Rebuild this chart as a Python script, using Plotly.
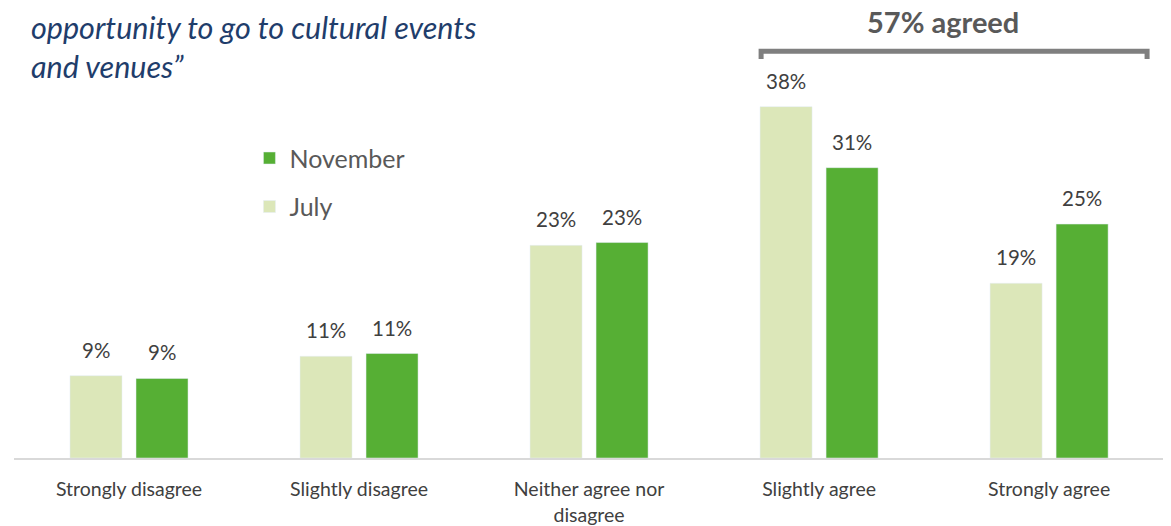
import plotly.graph_objects as go

categories = ["Strongly disagree", "Slightly disagree", "Neither agree nor<br>disagree",
              "Slightly agree", "Strongly agree"]
july = [8.9, 11.0, 23.0, 38.0, 18.9]
november = [8.6, 11.3, 23.3, 31.4, 25.3]
july_labels = ["9%", "11%", "23%", "38%", "19%"]
november_labels = ["9%", "11%", "23%", "31%", "25%"]

title_text = ("\u201cSince lockdown, I\u2019ve really missed the<br>"
              "opportunity to go to cultural events<br>and venues\u201d")
agreed_text = "57% agreed"

C_JULY = "#DCE7B9"
C_NOV = "#56AF34"
TXT = "#404040"
FONT = "Lato"

fig = go.Figure()
fig.add_trace(go.Bar(name="July", x=categories, y=july, marker_color=C_JULY,
                     legendgroup="j", legendrank=2, hoverinfo="skip"))
fig.add_trace(go.Bar(name="November", x=categories, y=november, marker_color=C_NOV,
                     legendgroup="n", legendrank=1, hoverinfo="skip"))

annotations = []
for i, c in enumerate(categories):
    annotations.append(dict(x=c, y=july[i], xref="x", yref="y", text=july_labels[i],
                            showarrow=False, xshift=-33, yshift=12, yanchor="bottom",
                            font=dict(family=FONT, size=20.5, color=TXT)))
    annotations.append(dict(x=c, y=november[i], xref="x", yref="y", text=november_labels[i],
                            showarrow=False, xshift=33, yshift=12, yanchor="bottom",
                            font=dict(family=FONT, size=20.5, color=TXT)))

annotations.append(dict(x=0.013, y=1.172, xref="paper", yref="paper", xanchor="left",
                        yanchor="middle", align="left", text=title_text, showarrow=False,
                        font=dict(family=FONT, size=30.5, color="#1F3D6B", style="italic")))
annotations.append(dict(x=0.803, y=1.186, xref="paper", yref="paper", xanchor="center",
                        yanchor="middle", text="<b>" + agreed_text + "</b>", showarrow=False,
                        font=dict(family=FONT, size=29, color="#595959")))

fig.update_layout(
    width=1163, height=518,
    margin=dict(l=6, r=0, t=82, b=66),
    plot_bgcolor="white", paper_bgcolor="white",
    barmode="group", bargap=0.426, bargroupgap=0.212,
    showlegend=True,
    legend=dict(x=0.2035, y=0.877, xanchor="left", yanchor="top",
                traceorder="grouped", tracegroupgap=13,
                font=dict(family=FONT, size=25, color="#595959"),
                bgcolor="rgba(0,0,0,0)"),
    xaxis=dict(range=[-0.5, 4.53], showgrid=False, showline=True, linecolor="#D9D9D9",
               linewidth=2, ticks="", ticklabelstandoff=13,
               tickfont=dict(family=FONT, size=19.5, color=TXT)),
    yaxis=dict(range=[0, 39.8], visible=False, showgrid=False, zeroline=False),
    annotations=annotations,
    shapes=[dict(type="path", xref="x", yref="paper",
                 path="M 2.748,1.084 L 2.748,1.105 L 4.426,1.105 L 4.426,1.084",
                 line=dict(color="#7F7F7F", width=5))],
)

fig.write_html("out.html")
